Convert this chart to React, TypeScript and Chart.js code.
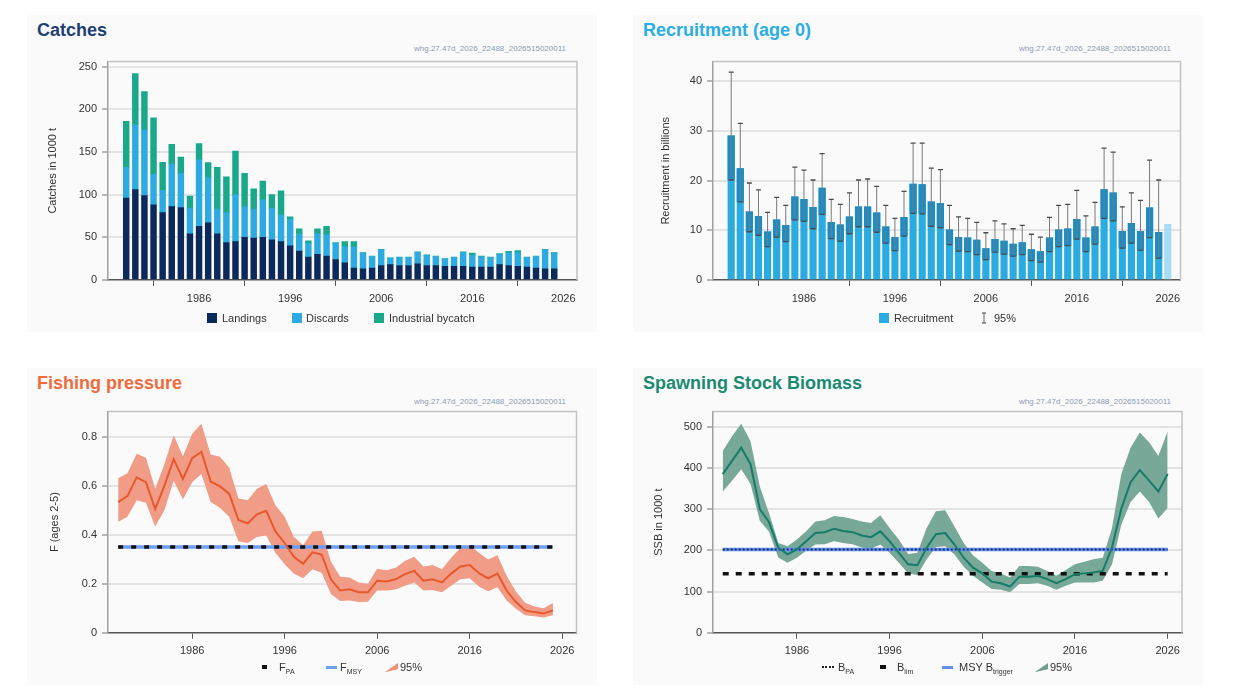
import React, { useEffect, useRef } from 'react';
import { Chart, registerables } from 'chart.js';

Chart.register(...registerables);

const FONT = "'Liberation Sans', Arial, Helvetica, sans-serif";
const WATERMARK = 'whg.27.47d_2026_22488_2026515020011';
const X_TICKS = [1986, 1996, 2006, 2016, 2026];

// ---------- Catches (1000 t) ----------
const catchYears = [
  1978, 1979, 1980, 1981, 1982, 1983, 1984, 1985, 1986, 1987,
  1988, 1989, 1990, 1991, 1992, 1993, 1994, 1995, 1996, 1997,
  1998, 1999, 2000, 2001, 2002, 2003, 2004, 2005, 2006, 2007,
  2008, 2009, 2010, 2011, 2012, 2013, 2014, 2015, 2016, 2017,
  2018, 2019, 2020, 2021, 2022, 2023, 2024, 2025,
];
const landings = [
  96, 106, 99, 88, 79, 86, 85, 54, 63, 67,
  54, 44, 45, 50, 49, 50, 47, 45, 40, 34,
  27, 30, 28, 24, 20, 14, 13, 14, 17, 18,
  17, 17, 19, 17, 17, 16, 16, 16, 15, 15,
  15, 18, 17, 16, 15, 14, 13, 13,
];
const discards = [
  36, 76, 77, 36, 26, 50, 40, 30, 78, 53,
  29, 35, 55, 36, 34, 44, 37, 31, 31, 20,
  16, 24, 25, 19, 19, 25, 18.5, 13.5, 18.5, 7.7,
  9.7, 9.7, 13.5, 12, 10.5, 8.5, 10.5, 16.2, 14, 12.2,
  11.5, 12, 14.5, 16.5, 11.5, 13.5, 22.5, 18.5,
];
const industrialBycatch = [
  54, 60, 45, 66, 33, 23, 19, 14.5, 19, 17.5,
  49, 42, 51, 39, 24, 22, 16, 28.5, 3, 6,
  3, 6, 10, 1, 6, 6, 0.5, 0.5, 0.5, 0.3,
  0.3, 0.3, 0.5, 0.5, 0.5, 0.5, 0.5, 0.8, 2.5, 0.8,
  0.5, 1, 2, 2, 0.5, 0.5, 0.5, 0.5,
];
const catchTicks = [0, 50, 100, 150, 200, 250];

// ---------- Recruitment (billions) ----------
const recYears = [
  1978, 1979, 1980, 1981, 1982, 1983, 1984, 1985, 1986, 1987,
  1988, 1989, 1990, 1991, 1992, 1993, 1994, 1995, 1996, 1997,
  1998, 1999, 2000, 2001, 2002, 2003, 2004, 2005, 2006, 2007,
  2008, 2009, 2010, 2011, 2012, 2013, 2014, 2015, 2016, 2017,
  2018, 2019, 2020, 2021, 2022, 2023, 2024, 2025, 2026,
];
const recruitment = [
  29.0, 22.4, 13.7, 12.8, 9.7, 12.1, 11.0, 16.7, 16.2, 14.6,
  18.5, 11.6, 11.1, 12.7, 14.7, 14.7, 13.5, 10.7, 8.6, 12.6,
  19.3, 19.2, 15.7, 15.4, 10.1, 8.6, 8.5, 8.0, 6.3, 8.2,
  7.8, 7.2, 7.5, 6.1, 5.7, 8.5, 10.1, 10.3, 12.2, 8.5,
  10.7, 18.2, 17.5, 9.8, 11.4, 9.8, 14.5, 9.6, 11.2,
];
const recHigh = [
  41.8, 31.5, 19.5, 18.1, 13.6, 16.6, 15.0, 22.7, 22.1, 20.1,
  25.4, 16.2, 15.2, 17.5, 20.1, 20.3, 18.8, 15.0, 12.4, 17.8,
  27.5, 27.5, 22.5, 22.2, 15.0, 12.7, 12.4, 11.6, 9.5, 11.9,
  11.3, 10.3, 11.0, 9.2, 8.6, 12.6, 15.0, 15.2, 18.0, 12.9,
  15.6, 26.5, 25.7, 14.7, 17.5, 16.0, 24.1, 20.1, null,
];
const recLow = [
  20.1, 15.7, 9.7, 9.0, 6.7, 8.6, 7.7, 12.1, 11.8, 10.3,
  13.2, 8.3, 7.8, 9.3, 10.7, 10.7, 9.6, 7.4, 5.9, 8.8,
  13.4, 13.3, 10.8, 10.5, 7.1, 5.8, 5.7, 5.1, 4.1, 5.6,
  5.2, 4.8, 5.1, 3.9, 3.6, 5.7, 6.7, 6.9, 8.2, 5.7,
  7.2, 12.4, 11.9, 6.4, 7.4, 6.0, 8.5, 4.4, null,
];
const recTicks = [0, 10, 20, 30, 40];

// ---------- Fishing pressure (F ages 2-5) ----------
const fYears = [
  1978, 1979, 1980, 1981, 1982, 1983, 1984, 1985, 1986, 1987,
  1988, 1989, 1990, 1991, 1992, 1993, 1994, 1995, 1996, 1997,
  1998, 1999, 2000, 2001, 2002, 2003, 2004, 2005, 2006, 2007,
  2008, 2009, 2010, 2011, 2012, 2013, 2014, 2015, 2016, 2017,
  2018, 2019, 2020, 2021, 2022, 2023, 2024, 2025,
];
const fishingMortality = [
  0.533, 0.557, 0.634, 0.614, 0.504, 0.600, 0.708, 0.627, 0.712, 0.738,
  0.617, 0.597, 0.567, 0.460, 0.446, 0.483, 0.497, 0.413, 0.366, 0.310,
  0.281, 0.328, 0.319, 0.218, 0.172, 0.177, 0.165, 0.165, 0.212, 0.209,
  0.218, 0.239, 0.252, 0.212, 0.218, 0.205, 0.241, 0.270, 0.276, 0.243,
  0.222, 0.241, 0.172, 0.125, 0.091, 0.084, 0.078, 0.091,
];
const fHigh = [
  0.630, 0.650, 0.730, 0.714, 0.587, 0.688, 0.806, 0.720, 0.812, 0.852,
  0.727, 0.718, 0.674, 0.547, 0.540, 0.587, 0.607, 0.520, 0.473, 0.390,
  0.357, 0.413, 0.416, 0.290, 0.228, 0.225, 0.205, 0.200, 0.261, 0.255,
  0.265, 0.292, 0.310, 0.270, 0.276, 0.259, 0.306, 0.346, 0.357, 0.326,
  0.299, 0.316, 0.232, 0.168, 0.122, 0.107, 0.100, 0.121,
];
const fLow = [
  0.453, 0.473, 0.540, 0.530, 0.433, 0.500, 0.620, 0.544, 0.614, 0.647,
  0.533, 0.510, 0.473, 0.373, 0.366, 0.390, 0.397, 0.326, 0.279, 0.241,
  0.222, 0.259, 0.245, 0.158, 0.129, 0.131, 0.125, 0.126, 0.172, 0.172,
  0.176, 0.192, 0.205, 0.172, 0.174, 0.165, 0.192, 0.218, 0.222, 0.188,
  0.169, 0.185, 0.131, 0.098, 0.071, 0.067, 0.062, 0.071,
];
const F_PA = 0.35;
const F_MSY = 0.35;
const fTicks = [0, 0.2, 0.4, 0.6, 0.8];

// ---------- Spawning stock biomass (1000 t) ----------
const ssbYears = [
  1978, 1979, 1980, 1981, 1982, 1983, 1984, 1985, 1986, 1987,
  1988, 1989, 1990, 1991, 1992, 1993, 1994, 1995, 1996, 1997,
  1998, 1999, 2000, 2001, 2002, 2003, 2004, 2005, 2006, 2007,
  2008, 2009, 2010, 2011, 2012, 2013, 2014, 2015, 2016, 2017,
  2018, 2019, 2020, 2021, 2022, 2023, 2024, 2025, 2026,
];
const ssb = [
  385, 417, 449, 409, 300, 268, 206, 190, 202, 222,
  242, 244, 252, 247, 244, 236, 232, 246, 222, 194,
  166, 164, 206, 239, 242, 214, 182, 158, 144, 124,
  120, 112, 136, 136, 138, 130, 120, 130, 142, 144,
  146, 150, 207, 301, 365, 395, 369, 343, 385,
];
const ssbHigh = [
  441, 477, 507, 465, 355, 290, 218, 210, 226, 246,
  270, 273, 283, 281, 276, 270, 266, 285, 254, 226,
  191, 194, 254, 295, 297, 258, 218, 188, 170, 150,
  144, 134, 162, 162, 160, 150, 138, 152, 166, 172,
  178, 182, 254, 385, 449, 486, 462, 429, 489,
];
const ssbLow = [
  343, 369, 397, 361, 272, 245, 182, 170, 182, 199,
  214, 215, 222, 218, 215, 207, 204, 214, 194, 170,
  144, 140, 178, 208, 210, 190, 160, 138, 122, 106,
  104, 98, 118, 118, 120, 114, 104, 114, 122, 122,
  122, 126, 166, 262, 317, 343, 317, 277, 303,
];
const B_PA = 202;
const B_LIM = 143;
const MSY_BTRIGGER = 202;
const ssbTicks = [0, 100, 200, 300, 400, 500];

// ---------- helpers ----------
const TICK_FONT = { family: FONT, size: 11 };
const TEXT = '#333333';

function pts(xs: number[], ys: (number | null)[]) {
  return xs.map((x, i) => ({ x, y: ys[i] }));
}

function yAxis(o: { max: number; ticks: number[]; title: string; width: number; titlePad: number; stacked?: boolean }) {
  return {
    type: 'linear',
    min: 0,
    max: o.max,
    stacked: !!o.stacked,
    afterBuildTicks: (s: any) => {
      s.ticks = o.ticks.map((v) => ({ value: v }));
    },
    afterFit: (s: any) => {
      s.width = o.width;
    },
    ticks: { callback: (v: any) => String(v), color: TEXT, font: TICK_FONT, padding: 5 },
    grid: {
      color: (ctx: any) => (ctx.tick && ctx.tick.value === 0 ? 'rgba(0,0,0,0)' : '#e3e3e3'),
      lineWidth: 2,
      tickColor: '#777777',
      tickLength: 6,
      tickWidth: 1,
    },
    border: { display: true, color: '#a0a0a0', width: 1.5 },
    title: {
      display: true,
      text: o.title,
      color: TEXT,
      font: { family: FONT, size: 11 },
      padding: { top: o.titlePad, bottom: 0 },
    },
  };
}

function xAxis(min: number, max: number, height: number, stacked = false) {
  return {
    type: 'linear',
    min,
    max,
    offset: false,
    stacked,
    afterBuildTicks: (s: any) => {
      s.ticks = X_TICKS.map((v) => ({ value: v }));
    },
    afterFit: (s: any) => {
      s.height = height;
    },
    ticks: { callback: (v: any) => String(v), color: TEXT, font: TICK_FONT, padding: 6, maxRotation: 0, autoSkip: false },
    grid: { drawOnChartArea: false, drawTicks: true, tickLength: 6, tickColor: '#555555', tickWidth: 1 },
    border: { display: true, color: '#555555', width: 1.5 },
  };
}

const framePlugin = {
  id: 'frame',
  afterDraw(chart: any) {
    const { ctx, chartArea } = chart;
    const { left, top, right, bottom } = chartArea;
    ctx.save();
    ctx.strokeStyle = '#c2c2c2';
    ctx.lineWidth = 1.5;
    ctx.beginPath();
    ctx.moveTo(left, top);
    ctx.lineTo(right, top);
    ctx.lineTo(right, bottom);
    ctx.stroke();
    ctx.restore();
  },
};

const recErrorPlugin = {
  id: 'recErrors',
  afterDatasetsDraw(chart: any) {
    const { ctx } = chart;
    const xs = chart.scales.x;
    const ys = chart.scales.y;
    ctx.save();
    recYears.forEach((yr, i) => {
      const hi = recHigh[i];
      const lo = recLow[i];
      if (hi == null || lo == null) return;
      const px = xs.getPixelForValue(yr);
      const ph = ys.getPixelForValue(hi);
      const pl = ys.getPixelForValue(lo);
      ctx.strokeStyle = '#7a7a7a';
      ctx.lineWidth = 1;
      ctx.beginPath();
      ctx.moveTo(px, ph);
      ctx.lineTo(px, pl);
      ctx.stroke();
      ctx.strokeStyle = '#4a4a4a';
      ctx.lineWidth = 1.3;
      ctx.beginPath();
      ctx.moveTo(px - 2.5, ph);
      ctx.lineTo(px + 2.5, ph);
      ctx.moveTo(px - 2.5, pl);
      ctx.lineTo(px + 2.5, pl);
      ctx.stroke();
    });
    ctx.restore();
  },
};

const basePlugins = {
  legend: { display: false },
  tooltip: { enabled: false },
  title: { display: false },
};

// ---------- chart configs ----------
function catchesConfig(): any {
  return {
    type: 'bar',
    data: {
      datasets: [
        { label: 'Landings', data: pts(catchYears, landings), backgroundColor: '#0b2a5b', barThickness: 5.8, borderWidth: 0 },
        { label: 'Discards', data: pts(catchYears, discards), backgroundColor: '#2eaae2', barThickness: 5.8, borderWidth: 0 },
        { label: 'Industrial bycatch', data: pts(catchYears, industrialBycatch), backgroundColor: '#1aa88b', barThickness: 5.8, borderWidth: 0 },
      ],
    },
    options: {
      responsive: false,
      animation: false,
      devicePixelRatio: 1,
      layout: { padding: { top: 6, right: 13, left: 0, bottom: 0 } },
      plugins: basePlugins,
      scales: {
        x: xAxis(1976, 2027.5, 32, true),
        y: yAxis({ max: 256, ticks: catchTicks, title: 'Catches in 1000 t', width: 78, titlePad: 16, stacked: true }),
      },
    },
    plugins: [framePlugin],
  };
}

function recruitmentConfig(): any {
  const lastYear = recYears[recYears.length - 1];
  return {
    type: 'bar',
    data: {
      datasets: [
        {
          label: 'Recruitment 95% band',
          data: recYears.map((x, i) => ({ x, y: recLow[i] == null ? null : [recLow[i], recruitment[i]] })),
          backgroundColor: '#1b8cc4',
          barThickness: 6.5,
          borderWidth: 0,
          grouped: false,
        },
        {
          label: 'Recruitment',
          data: pts(recYears, recruitment),
          backgroundColor: recYears.map((y) => (y === lastYear ? '#a8dcf4' : '#2aace3')),
          barThickness: 6.5,
          borderWidth: 0,
          grouped: false,
        },
      ],
    },
    options: {
      responsive: false,
      animation: false,
      devicePixelRatio: 1,
      layout: { padding: { top: 6, right: 9.5, left: 0, bottom: 0 } },
      plugins: basePlugins,
      scales: {
        x: xAxis(1976, 2027.4, 32),
        y: yAxis({ max: 43.9, ticks: recTicks, title: 'Recruitment in billions', width: 83, titlePad: 29 }),
      },
    },
    plugins: [framePlugin, recErrorPlugin],
  };
}

function lineBase(order: number) {
  return { pointRadius: 0, pointHoverRadius: 0, tension: 0, order };
}

function fConfig(): any {
  const first = fYears[0];
  const last = fYears[fYears.length - 1];
  return {
    type: 'line',
    data: {
      datasets: [
        { ...lineBase(4), label: 'low', data: pts(fYears, fLow), borderWidth: 0, borderColor: 'rgba(0,0,0,0)', fill: false },
        { ...lineBase(3), label: '95%', data: pts(fYears, fHigh), borderWidth: 0, borderColor: 'rgba(0,0,0,0)', backgroundColor: '#f09c86', fill: '-1' },
        { ...lineBase(2), label: 'FMSY', data: [{ x: first, y: F_MSY }, { x: last, y: F_MSY }], borderColor: '#6e9ff6', borderWidth: 3.5, fill: false },
        { ...lineBase(1), label: 'FPA', data: [{ x: first, y: F_PA }, { x: last, y: F_PA }], borderColor: '#111111', borderWidth: 3.5, borderDash: [5, 8], fill: false },
        { ...lineBase(0), label: 'F', data: pts(fYears, fishingMortality), borderColor: '#e9582d', borderWidth: 2, fill: false },
      ],
    },
    options: {
      responsive: false,
      animation: false,
      devicePixelRatio: 1,
      layout: { padding: { top: 8.3, right: 13.5, left: 0, bottom: 0 } },
      plugins: basePlugins,
      scales: {
        x: xAxis(1976.9, 2027.55, 29.3),
        y: yAxis({ max: 0.902, ticks: fTicks, title: 'F (ages 2-5)', width: 78, titlePad: 18 }),
      },
    },
    plugins: [framePlugin],
  };
}

function ssbConfig(): any {
  const first = ssbYears[0];
  const last = ssbYears[ssbYears.length - 1];
  return {
    type: 'line',
    data: {
      datasets: [
        { ...lineBase(6), label: 'low', data: pts(ssbYears, ssbLow), borderWidth: 0, borderColor: 'rgba(0,0,0,0)', fill: false },
        { ...lineBase(5), label: '95%', data: pts(ssbYears, ssbHigh), borderWidth: 0, borderColor: 'rgba(0,0,0,0)', backgroundColor: '#78a897', fill: '-1' },
        { ...lineBase(3), label: 'MSY Btrigger', data: [{ x: first, y: MSY_BTRIGGER }, { x: last, y: MSY_BTRIGGER }], borderColor: '#5f90ee', borderWidth: 3.5, fill: false },
        { ...lineBase(2), label: 'Bpa', data: [{ x: first, y: B_PA }, { x: last, y: B_PA }], borderColor: '#1d2f6a', borderWidth: 2, borderDash: [2, 2], fill: false },
        { ...lineBase(1), label: 'Blim', data: [{ x: first, y: B_LIM }, { x: last, y: B_LIM }], borderColor: '#111111', borderWidth: 3.5, borderDash: [6, 7], fill: false },
        { ...lineBase(0), label: 'SSB', data: pts(ssbYears, ssb), borderColor: '#177c67', borderWidth: 2, fill: false },
      ],
    },
    options: {
      responsive: false,
      animation: false,
      devicePixelRatio: 1,
      layout: { padding: { top: 8.3, right: 8, left: 0, bottom: 0 } },
      plugins: basePlugins,
      scales: {
        x: xAxis(1976.95, 2027.55, 29.3),
        y: yAxis({ max: 536.7, ticks: ssbTicks, title: 'SSB in 1000 t', width: 83, titlePad: 22 }),
      },
    },
    plugins: [framePlugin],
  };
}

// ---------- components ----------
function ChartCanvas({ left, top, width, height, make }: { left: number; top: number; width: number; height: number; make: () => any }) {
  const ref = useRef<HTMLCanvasElement | null>(null);
  useEffect(() => {
    if (!ref.current) return;
    const chart = new Chart(ref.current, make());
    return () => chart.destroy();
  }, []);
  return (
    <canvas
      ref={ref}
      width={width}
      height={height}
      style={{ position: 'absolute', left, top, width, height, display: 'block' }}
    />
  );
}

function Title({ x, y, color, text }: { x: number; y: number; color: string; text: string }) {
  return (
    <div
      style={{
        position: 'absolute',
        left: x,
        top: y,
        fontFamily: FONT,
        fontWeight: 'bold',
        fontSize: 18,
        lineHeight: '18px',
        color,
        whiteSpace: 'nowrap',
      }}
    >
      {text}
    </div>
  );
}

function Watermark({ right, y }: { right: number; y: number }) {
  return (
    <div
      style={{
        position: 'absolute',
        left: right - 260,
        width: 260,
        top: y,
        textAlign: 'right',
        fontFamily: FONT,
        fontSize: 8,
        lineHeight: '9px',
        color: '#8d9cb6',
        whiteSpace: 'nowrap',
      }}
    >
      {WATERMARK}
    </div>
  );
}

const abs = (x: number, cy: number, h: number): React.CSSProperties => ({
  position: 'absolute',
  left: x,
  top: cy - h / 2,
});

function LegendText({ x, cy, main, sub }: { x: number; cy: number; main: string; sub?: string }) {
  return (
    <div style={{ ...abs(x, cy, 14), fontFamily: FONT, fontSize: 11, lineHeight: '14px', color: TEXT, whiteSpace: 'nowrap' }}>
      {main}
      {sub ? <span style={{ fontSize: 7, position: 'relative', top: 3 }}>{sub}</span> : null}
    </div>
  );
}

function Swatch({ x, cy, w, h, color }: { x: number; cy: number; w: number; h: number; color: string }) {
  return <div style={{ ...abs(x, cy, h), width: w, height: h, background: color }} />;
}

function Wedge({ x, cy, color }: { x: number; cy: number; color: string }) {
  return (
    <svg width={13} height={9} style={{ ...abs(x, cy, 9) }}>
      <polygon points="0,9 13,0 13,6 0,9" fill={color} />
      <polygon points="0,9 13,3 13,6" fill={color} />
    </svg>
  );
}

function ErrIcon({ x, cy }: { x: number; cy: number }) {
  return (
    <svg width={6} height={12} style={{ ...abs(x - 3, cy, 12) }}>
      <line x1={3} y1={1} x2={3} y2={11} stroke="#666" strokeWidth={1} />
      <line x1={1} y1={1} x2={5} y2={1} stroke="#444" strokeWidth={1} />
      <line x1={1} y1={11} x2={5} y2={11} stroke="#444" strokeWidth={1} />
    </svg>
  );
}

function DottedIcon({ x, cy }: { x: number; cy: number }) {
  return <div style={{ ...abs(x, cy, 2), width: 12, height: 0, borderTop: '2px dotted #222' }} />;
}

const PANEL_BG = '#fafafa';

export default function App() {
  const topLegendY = 318;
  const botLegendY = 667;
  return (
    <div
      style={{
        position: 'fixed',
        left: 0,
        top: 0,
        width: 1233,
        height: 697,
        background: '#ffffff',
        overflow: 'hidden',
        fontFamily: FONT,
      }}
    >
      {/* panel backgrounds */}
      <div style={{ position: 'absolute', left: 27, top: 15, width: 570, height: 317, background: PANEL_BG }} />
      <div style={{ position: 'absolute', left: 633, top: 15, width: 570, height: 317, background: PANEL_BG }} />
      <div style={{ position: 'absolute', left: 27, top: 368, width: 570, height: 317, background: PANEL_BG }} />
      <div style={{ position: 'absolute', left: 633, top: 368, width: 570, height: 317, background: PANEL_BG }} />

      {/* Catches */}
      <Title x={37} y={21} color="#1e3f73" text="Catches" />
      <Watermark right={566} y={44} />
      <ChartCanvas left={30} top={50} width={560} height={262} make={catchesConfig} />
      <Swatch x={207} cy={topLegendY} w={10} h={10} color="#0b2a5b" />
      <LegendText x={222} cy={topLegendY} main="Landings" />
      <Swatch x={292} cy={topLegendY} w={10} h={10} color="#2eaae2" />
      <LegendText x={306} cy={topLegendY} main="Discards" />
      <Swatch x={374} cy={topLegendY} w={10} h={10} color="#1aa88b" />
      <LegendText x={389} cy={topLegendY} main="Industrial bycatch" />

      {/* Recruitment */}
      <Title x={643} y={21} color="#2aaee4" text="Recruitment (age 0)" />
      <Watermark right={1171} y={44} />
      <ChartCanvas left={630} top={50} width={560} height={262} make={recruitmentConfig} />
      <Swatch x={879} cy={topLegendY} w={10} h={10} color="#2aace3" />
      <LegendText x={894} cy={topLegendY} main="Recruitment" />
      <ErrIcon x={984} cy={topLegendY} />
      <LegendText x={994} cy={topLegendY} main="95%" />

      {/* Fishing pressure */}
      <Title x={37} y={374} color="#f06b3b" text="Fishing pressure" />
      <Watermark right={566} y={397} />
      <ChartCanvas left={30} top={400} width={560} height={262} make={fConfig} />
      <Swatch x={262} cy={botLegendY} w={5} h={3.5} color="#111111" />
      <LegendText x={279} cy={botLegendY} main="F" sub="PA" />
      <Swatch x={326} cy={botLegendY} w={11} h={3} color="#6e9ff6" />
      <LegendText x={340} cy={botLegendY} main="F" sub="MSY" />
      <Wedge x={385} cy={botLegendY} color="#f0907a" />
      <LegendText x={400} cy={botLegendY} main="95%" />

      {/* SSB */}
      <Title x={643} y={374} color="#1b8a72" text="Spawning Stock Biomass" />
      <Watermark right={1171} y={397} />
      <ChartCanvas left={630} top={400} width={560} height={262} make={ssbConfig} />
      <DottedIcon x={822} cy={botLegendY} />
      <LegendText x={838} cy={botLegendY} main="B" sub="PA" />
      <Swatch x={880} cy={botLegendY} w={6} h={3.5} color="#111111" />
      <LegendText x={897} cy={botLegendY} main="B" sub="lim" />
      <Swatch x={942} cy={botLegendY} w={11} h={3} color="#5f90ee" />
      <LegendText x={959} cy={botLegendY} main="MSY B" sub="trigger" />
      <Wedge x={1035} cy={botLegendY} color="#6e9f8d" />
      <LegendText x={1050} cy={botLegendY} main="95%" />
    </div>
  );
}
